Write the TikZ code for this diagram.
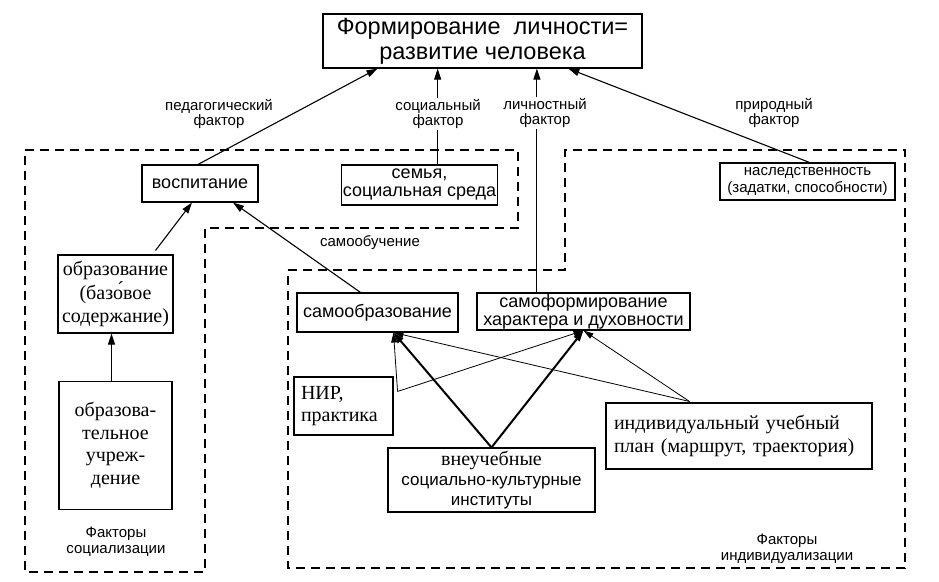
\documentclass[tikz,border=0pt]{standalone}
\usepackage{fontspec}
\setmainfont{Liberation Serif}
\setsansfont{Liberation Sans}
\usetikzlibrary{calc, positioning, arrows.meta}
\tikzset{
    box/.style={rectangle, draw=black, line width=1.1pt, fill=white, align=center, inner sep=1pt, font=\sffamily\fontsize{18}{19}\selectfont},
    sbox/.style={box, font=\rmfamily\fontsize{20}{22.5}\selectfont},
    title/.style={box, font=\sffamily\fontsize{23.5}{25}\selectfont},
    group/.style={draw=black, line width=1.8pt, dash pattern=on 9pt off 6pt},
    arrow/.style={-{Triangle[length=11pt, width=7pt]}, line width=1.1pt},
    thinarrow/.style={-{Triangle[length=10pt, width=6pt]}, line width=0.8pt},
    thickarrow/.style={-{Triangle[length=11pt, width=7pt]}, line width=2pt},
    factor/.style={align=center, inner sep=1pt, font=\sffamily\fontsize{15}{15.5}\selectfont},
    onlink/.style={factor, fill=white}
}
\begin{document}
\begin{tikzpicture}[x=1pt, y=-1pt]
        \useasboundingbox (0,0) rectangle (939,581);

        % Regions
        \draw[group] (25,150) -- (518,150) -- (518,228) -- (205,228) -- (205,572) -- (25,572) -- cycle;
        \draw[group] (288,270) -- (565,270) -- (565,150) -- (905,150) -- (905,568) -- (288,568) -- cycle;

        % Goal
        \node[title, minimum width=319pt, minimum height=54pt] (Goal) at (482.5,41) {Формирование\ \ личности=\\развитие человека};
        \coordinate (G1) at ($(Goal.south west)!0.172!(Goal.south east)$);
        \coordinate (G2) at ($(Goal.south west)!0.36!(Goal.south east)$);
        \coordinate (G3) at ($(Goal.south west)!0.67!(Goal.south east)$);
        \coordinate (G4) at ($(Goal.south west)!0.768!(Goal.south east)$);

        % Socialization
        \node[box, minimum width=116pt, minimum height=37pt] (Vosp) at (200,183.5) {воспитание};
        \node[box, minimum width=155pt, minimum height=40pt, font=\sffamily\fontsize{18}{18}\selectfont] (Family) at (419.5,185) {семья,\\социальная среда};
        \node[sbox, minimum width=115pt, minimum height=78pt, font=\rmfamily\fontsize{20}{23.5}\selectfont] (Edu) at (115.5,294) {образование\\(базо́вое\\содержание)};
        \node[sbox, minimum width=113pt, minimum height=128pt, below=47pt of Edu] (School) {образова-\\тельное\\учреж-\\дение};

        % Individualization
        \node[box, minimum width=175pt, minimum height=37pt, font=\sffamily\fontsize{15}{17}\selectfont] (Heredity) at (807.5,181.5) {наследственность\\(задатки, способности)};
        \node[box, minimum width=161pt, minimum height=39pt] (SelfEdu) at (377.5,312.5) {самообразование};
        \node[box, minimum width=213pt, minimum height=37pt, font=\sffamily\fontsize{18}{18}\selectfont] (SelfForm) at (583.5,311.5) {самоформирование\\характера и духовности};
        \node[sbox, minimum width=99pt, minimum height=58pt, align=left, text width=85pt] (Research) at (343.5,406) {НИР,\\практика};
        \node[box, minimum width=207pt, minimum height=64pt, font=\sffamily\fontsize{17}{20}\selectfont] (Extra) at (491.5,480) {{\rmfamily\fontsize{20}{20}\selectfont внеучебные}\\социально-культурные\\институты};
        \node[sbox, minimum width=266pt, minimum height=66pt, align=left, text width=250pt] (Plan) at (739,436) {индивидуальный учебный\\план (маршрут, траектория)};

        \coordinate (SE) at ($(SelfEdu.south)+(16,0)$);
        \coordinate (ResOut) at ($(Research.north east)+(4,15)$);
        \coordinate (PlanOut) at ($(Plan.north west)+(84,-1)$);

        % Connections
        \draw[arrow] ($(Vosp.north)+(-2,0)$) -- (G1);
        \draw[arrow] (Family.north -| G2) -- (G2);
        \draw[arrow] (SelfForm.north -| G3) -- (G3);
        \draw[arrow] ($(Heredity.north)+(2,0)$) -- (G4);

        \draw[arrow] ($(School.north)+(-4,0)$) -- ($(Edu.south)+(-4,0)$);
        \draw[arrow] ($(Edu.north)+(40,-4)$) -- ($(Vosp.south)+(-8,0)$);
        \draw[arrow] ($(SelfEdu.north)+(-17,0)$) -- ($(Vosp.south)+(33,0)$);

        \draw[thickarrow] (Extra.north) -- (SE);
        \draw[thickarrow] (Extra.north) -- (SelfForm.south);
        \draw[thinarrow] (ResOut) -- (SE);
        \draw[thinarrow] (ResOut) -- (SelfForm.south);
        \draw[thinarrow] (PlanOut) -- (SE);
        \draw[thinarrow] (PlanOut) -- (SelfForm.south);

        % Labels
        \node[factor] (PedLbl) at (219,114) {педагогический\\фактор};
        \node[onlink] (SocLbl) at (438,114) {социальный\\фактор};
        \node[onlink] (PersLbl) at (545,113) {личностный\\фактор};
        \node[factor] (NatLbl) at (774,113) {природный\\фактор};
        \node[factor] (SelfLbl) at (370,243) {самообучение};
        \node[factor] (SocReg) at (116,542) {Факторы\\социализации};
        \node[factor] (IndReg) at (787,549) {Факторы\\индивидуализации};
    \end{tikzpicture}
\end{document}
